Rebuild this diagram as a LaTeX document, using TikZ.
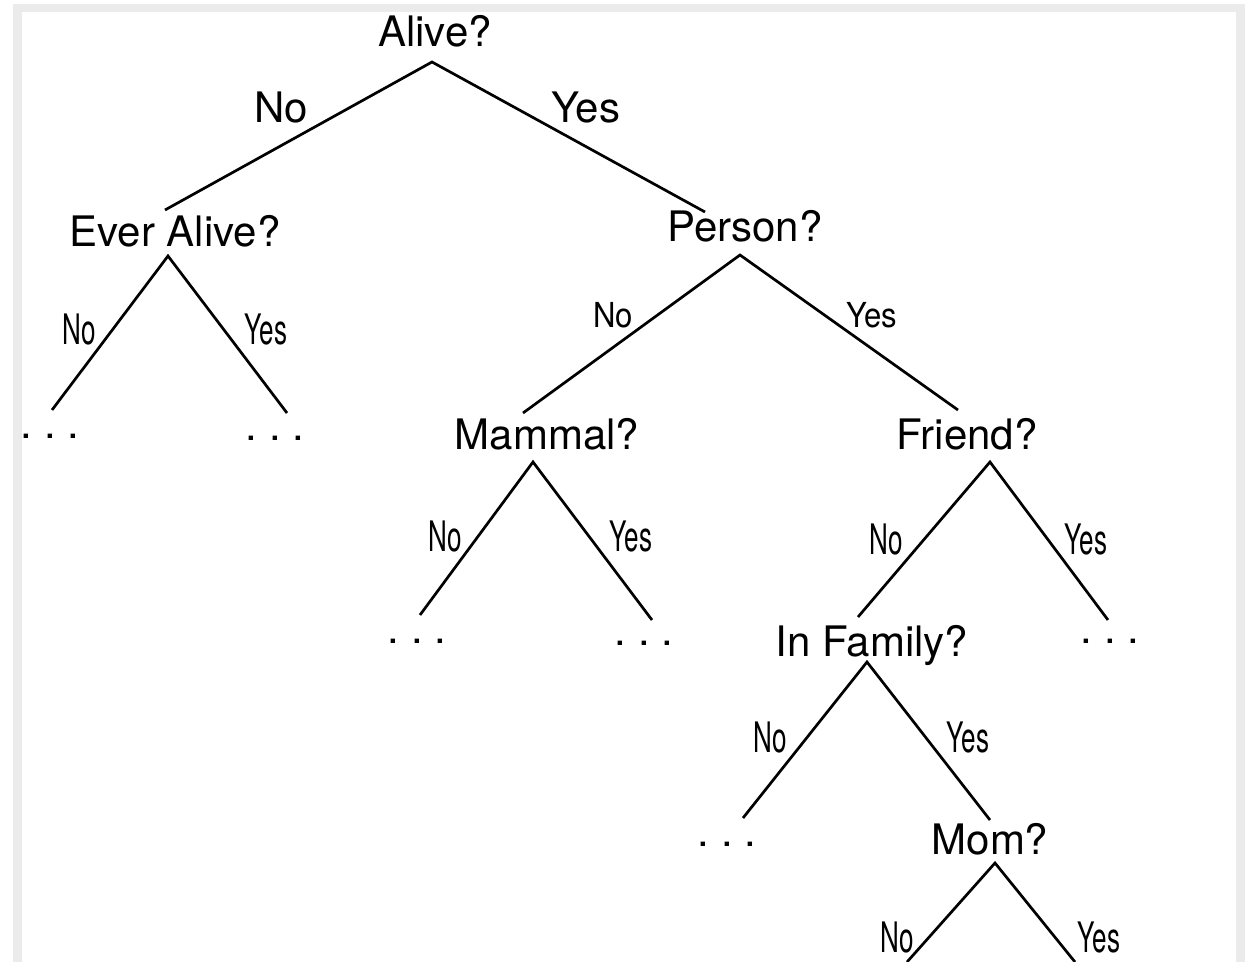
\documentclass[tikz,border=0pt]{standalone}
\usepackage{fontspec}
\setmainfont{TeX Gyre Heros}
% condensed branch labels
\newcommand\narrowlbl[1]{\scalebox{0.62}[1]{#1}}
\newcommand\midlbl[1]{\scalebox{0.74}[0.82]{#1}}
\definecolor{framegray}{HTML}{EBEBEB}
\begin{document}
\begin{tikzpicture}[x=0.5pt,y=-0.5pt,
  question/.style={anchor=base,inner sep=0pt,font=\fontsize{21}{25}\selectfont},
  branch/.style={inner sep=0pt,font=\fontsize{21}{25}\selectfont},
  more/.style={anchor=base,inner sep=0pt,font=\fontsize{21}{25}\selectfont},
  edge/.style={line width=1.35pt,line join=miter}]
\useasboundingbox (0,0) rectangle (1250,962);
% frame
\fill[framegray] (13,4) rectangle (1245,962);
\fill[white] (22,12) rectangle (1236,962);

% questions
\node[question] (alive)  at (435,47)  {Alive?};
\node[question] (ever)   at (175,247) {Ever Alive?};
\node[question] (person) at (745,242) {Person?};
\node[question] (mammal) at (547,450) {Mammal?};
\node[question] (friend) at (967,450) {Friend?};
\node[question] (family) at (872,657) {In Family?};
\node[question] (mom)    at (990,855) {Mom?};

% unexpanded subtrees
\node[more] (ever-no)    at (50,439)   {.\ .\ .};
\node[more] (ever-yes)   at (275,441)  {.\ .\ .};
\node[more] (mammal-no)  at (417,644)  {.\ .\ .};
\node[more] (mammal-yes) at (644,646)  {.\ .\ .};
\node[more] (friend-yes) at (1110,644) {.\ .\ .};
\node[more] (family-no)  at (727,847)  {.\ .\ .};

% branch points under each question
\coordinate (alive-a)  at (432,62);
\coordinate (ever-a)   at (168,256);
\coordinate (person-a) at (740,255);
\coordinate (mammal-a) at (533,462);
\coordinate (friend-a) at (990,462);
\coordinate (family-a) at (867,662);
\coordinate (mom-a)    at (995,863);

% branch ends
\coordinate (ever-in)       at (165,210);
\coordinate (person-in)     at (705,212);
\coordinate (ever-no-in)    at (52,410);
\coordinate (ever-yes-in)   at (287,413);
\coordinate (mammal-in)     at (523,413);
\coordinate (friend-in)     at (958,410);
\coordinate (mammal-no-in)  at (420,615);
\coordinate (mammal-yes-in) at (652,620);
\coordinate (family-in)     at (858,617);
\coordinate (friend-yes-in) at (1108,620);
\coordinate (family-no-in)  at (743,818);
\coordinate (mom-in)        at (990,820);
\coordinate (mom-no-in)     at (907,962);
\coordinate (mom-yes-in)    at (1075,962);

% connectors
\draw[edge] (ever-in) -- (alive-a) -- (person-in);
\draw[edge] (ever-no-in) -- (ever-a) -- (ever-yes-in);
\draw[edge] (mammal-in) -- (person-a) -- (friend-in);
\draw[edge] (mammal-no-in) -- (mammal-a) -- (mammal-yes-in);
\draw[edge] (family-in) -- (friend-a) -- (friend-yes-in);
\draw[edge] (family-no-in) -- (family-a) -- (mom-in);
\draw[edge] (mom-no-in) -- (mom-a) -- (mom-yes-in);

% branch labels
\node[branch] (l-alive-no)   at (281,108) {No};
\node[branch] (l-alive-yes)  at (586,108) {Yes};
\node[branch] (l-ever-no)    at (79,330)  {\narrowlbl{No}};
\node[branch] (l-ever-yes)   at (266,330) {\narrowlbl{Yes}};
\node[branch] (l-person-no)  at (613,315) {\midlbl{No}};
\node[branch] (l-person-yes) at (872,315) {\midlbl{Yes}};
\node[branch] (l-mammal-no)  at (445,537) {\narrowlbl{No}};
\node[branch] (l-mammal-yes) at (631,537) {\narrowlbl{Yes}};
\node[branch] (l-friend-no)  at (886,540) {\narrowlbl{No}};
\node[branch] (l-friend-yes) at (1086,540) {\narrowlbl{Yes}};
\node[branch] (l-family-no)  at (770,738) {\narrowlbl{No}};
\node[branch] (l-family-yes) at (968,738) {\narrowlbl{Yes}};
\node[branch] (l-mom-no)     at (897,938) {\narrowlbl{No}};
\node[branch] (l-mom-yes)    at (1099,938) {\narrowlbl{Yes}};
\end{tikzpicture}
\end{document}
